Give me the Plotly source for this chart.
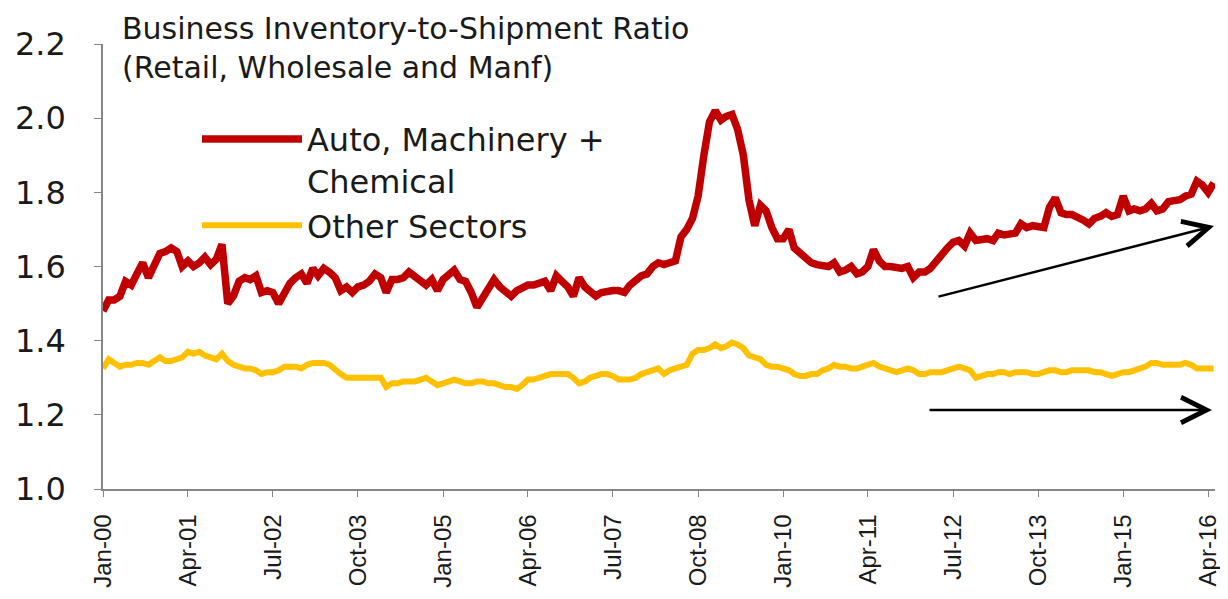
import plotly.graph_objects as go
import pandas as pd

# Monthly data Jan-2000 .. May-2016
dates = pd.date_range("2000-01-01", "2016-05-01", freq="MS")

auto_mach_chem = [
    # 2000
    1.48, 1.51, 1.51, 1.52, 1.56, 1.55, 1.58, 1.61, 1.57, 1.60, 1.635, 1.64,
    # 2001
    1.65, 1.64, 1.60, 1.615, 1.60, 1.61, 1.625, 1.605, 1.62, 1.66, 1.50, 1.52,
    # 2002
    1.56, 1.57, 1.565, 1.575, 1.53, 1.535, 1.53, 1.50, 1.53, 1.555, 1.57, 1.58,
    # 2003
    1.555, 1.595, 1.575, 1.595, 1.585, 1.57, 1.535, 1.545, 1.53, 1.545, 1.55, 1.56,
    # 2004
    1.58, 1.57, 1.53, 1.565, 1.565, 1.57, 1.585, 1.575, 1.565, 1.55, 1.565, 1.535,
    # 2005
    1.565, 1.575, 1.59, 1.565, 1.56, 1.53, 1.49, 1.515, 1.545, 1.565, 1.545, 1.535,
    # 2006
    1.52, 1.535, 1.545, 1.55, 1.55, 1.555, 1.56, 1.535, 1.575, 1.56, 1.545, 1.52,
    # 2007
    1.57, 1.545, 1.535, 1.52, 1.53, 1.535, 1.535, 1.535, 1.53, 1.55, 1.565, 1.575,
    # 2008
    1.58, 1.60, 1.61, 1.605, 1.61, 1.615, 1.68, 1.70, 1.73, 1.79, 1.90, 1.99,
    # 2009
    2.02, 1.995, 2.005, 2.01, 1.97, 1.90, 1.78, 1.71, 1.765, 1.75, 1.705, 1.675,
    # 2010
    1.675, 1.70, 1.65, 1.635, 1.62, 1.61, 1.605, 1.60, 1.60, 1.61, 1.585, 1.59,
    # 2011
    1.60, 1.58, 1.585, 1.60, 1.645, 1.615, 1.60, 1.60, 1.595, 1.595, 1.60, 1.57,
    # 2012
    1.585, 1.585, 1.595, 1.615, 1.635, 1.65, 1.665, 1.67, 1.655, 1.69, 1.67, 1.675,
    # 2013
    1.675, 1.67, 1.69, 1.685, 1.69, 1.69, 1.715, 1.705, 1.71, 1.705, 1.705, 1.76,
    # 2014
    1.785, 1.745, 1.74, 1.74, 1.735, 1.725, 1.715, 1.73, 1.735, 1.745, 1.735, 1.74,
    # 2015
    1.79, 1.75, 1.755, 1.75, 1.755, 1.77, 1.75, 1.755, 1.775, 1.775, 1.78, 1.79,
    # 2016
    1.795, 1.83, 1.82, 1.80, 1.825,
]

other_sectors = [
    # 2000
    1.325, 1.35, 1.34, 1.33, 1.335, 1.335, 1.34, 1.34, 1.335, 1.345, 1.355, 1.345,
    # 2001
    1.345, 1.35, 1.355, 1.37, 1.365, 1.37, 1.36, 1.355, 1.35, 1.365, 1.345, 1.335,
    # 2002
    1.33, 1.325, 1.325, 1.32, 1.31, 1.315, 1.315, 1.32, 1.33, 1.33, 1.33, 1.325,
    # 2003
    1.335, 1.34, 1.34, 1.34, 1.335, 1.32, 1.31, 1.30, 1.30, 1.30, 1.30, 1.30,
    # 2004
    1.30, 1.30, 1.275, 1.285, 1.285, 1.29, 1.29, 1.29, 1.295, 1.30, 1.29, 1.28,
    # 2005
    1.285, 1.29, 1.295, 1.29, 1.285, 1.285, 1.29, 1.29, 1.285, 1.285, 1.28, 1.275,
    # 2006
    1.275, 1.27, 1.28, 1.295, 1.295, 1.30, 1.305, 1.31, 1.31, 1.31, 1.31, 1.30,
    # 2007
    1.285, 1.29, 1.30, 1.305, 1.31, 1.31, 1.305, 1.295, 1.295, 1.295, 1.30, 1.31,
    # 2008
    1.315, 1.32, 1.325, 1.31, 1.32, 1.325, 1.33, 1.335, 1.365, 1.375, 1.375, 1.38,
    # 2009
    1.39, 1.38, 1.385, 1.395, 1.39, 1.38, 1.36, 1.355, 1.35, 1.335, 1.33, 1.33,
    # 2010
    1.326, 1.32, 1.31, 1.305, 1.305, 1.31, 1.31, 1.32, 1.325, 1.335, 1.33, 1.33,
    # 2011
    1.325, 1.325, 1.33, 1.335, 1.34, 1.33, 1.325, 1.32, 1.315, 1.32, 1.325, 1.32,
    # 2012
    1.31, 1.31, 1.315, 1.315, 1.315, 1.32, 1.325, 1.33, 1.325, 1.32, 1.30, 1.305,
    # 2013
    1.31, 1.31, 1.315, 1.315, 1.31, 1.315, 1.315, 1.315, 1.31, 1.31, 1.315, 1.32,
    # 2014
    1.32, 1.315, 1.315, 1.32, 1.32, 1.32, 1.32, 1.315, 1.315, 1.31, 1.305, 1.31,
    # 2015
    1.315, 1.315, 1.32, 1.325, 1.33, 1.34, 1.34, 1.335, 1.335, 1.335, 1.335, 1.34,
    # 2016
    1.335, 1.325, 1.325, 1.325, 1.325,
]

tick_dates = ["2000-01-01", "2001-04-01", "2002-07-01", "2003-10-01", "2005-01-01",
              "2006-04-01", "2007-07-01", "2008-10-01", "2010-01-01", "2011-04-01",
              "2012-07-01", "2013-10-01", "2015-01-01", "2016-04-01"]
tick_labels = ["Jan-00", "Apr-01", "Jul-02", "Oct-03", "Jan-05", "Apr-06", "Jul-07",
               "Oct-08", "Jan-10", "Apr-11", "Jul-12", "Oct-13", "Jan-15", "Apr-16"]
y_ticks = [1.0, 1.2, 1.4, 1.6, 1.8, 2.0, 2.2]

title_lines = ["Business Inventory-to-Shipment Ratio", "(Retail, Wholesale and Manf)"]
red_name = "Auto, Machinery +<br>Chemical"
other_name = "Other Sectors"
red = "#C00000"
yellow = "#FFC000"
ink = "#1a1a1a"
axis_grey = "#868686"

fig = go.Figure()
fig.add_trace(go.Scatter(x=dates, y=auto_mach_chem, mode="lines", name=red_name,
                         line=dict(color=red, width=7.5)))
fig.add_trace(go.Scatter(x=dates, y=other_sectors, mode="lines", name=other_name,
                         line=dict(color=yellow, width=6)))

# page body adds an 8px offset, so the figure is sized to fill the rest of the window
fig.update_layout(
    width=1220, height=591,
    margin=dict(l=95, r=13, t=36, b=110, autoexpand=False),
    paper_bgcolor="white", plot_bgcolor="white",
    showlegend=True,
    legend=dict(x=0.0845, y=0.848, xanchor="left", yanchor="top",
                font=dict(family="DejaVu Sans", size=32, color=ink),
                itemwidth=100, valign="top", tracegroupgap=0,
                bgcolor="rgba(0,0,0,0)"),
    xaxis=dict(range=["2000-01-01", "2016-05-08"], tickmode="array",
               tickvals=tick_dates, ticktext=tick_labels, tickangle=-90,
               ticks="outside", ticklen=6, tickcolor=axis_grey,
               showline=True, linecolor=axis_grey, linewidth=1.5,
               showgrid=False, zeroline=False, automargin=False,
               ticklabelstandoff=8,
               tickfont=dict(family="Liberation Sans", size=24, color=ink)),
    yaxis=dict(range=[1.0, 2.2], tickmode="array", tickvals=y_ticks,
               tickformat=".1f", ticks="outside", ticklen=7, tickcolor=axis_grey,
               showline=True, linecolor=axis_grey, linewidth=1.5,
               showgrid=False, zeroline=False, automargin=False,
               ticklabelstandoff=22,
               tickfont=dict(family="DejaVu Sans", size=32, color=ink)),
)

# Title (two lines in one text block)
fig.add_annotation(text="<br>".join(title_lines), xref="paper", yref="paper",
                   x=0.015, y=1.079, xanchor="left", yanchor="top", align="left",
                   showarrow=False,
                   font=dict(family="DejaVu Sans", size=30, color=ink))

# trend arrows
fig.add_annotation(xref="paper", yref="paper", x=0.9991, y=0.591, text="",
                   showarrow=True, arrowhead=5, arrowsize=2.0, arrowwidth=2.5,
                   arrowcolor="black", ax=-277, ay=71)
fig.add_annotation(xref="paper", yref="paper", x=0.9973, y=0.1775, text="",
                   showarrow=True, arrowhead=5, arrowsize=2.0, arrowwidth=2.5,
                   arrowcolor="black", ax=-284, ay=0)

fig.write_html("out.html")
